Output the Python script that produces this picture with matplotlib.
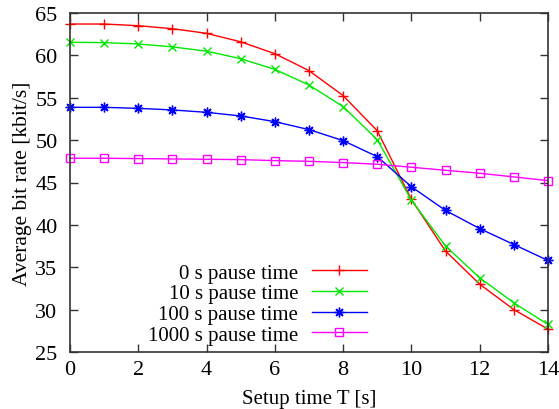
import matplotlib
matplotlib.use("Agg")
import matplotlib.pyplot as plt

plt.rcParams['font.family'] = ['Liberation Serif', 'DejaVu Serif']

setup_time = list(range(15))
labels = ["0 s pause time", "10 s pause time", "100 s pause time", "1000 s pause time"]
pause0 = [63.7, 63.7, 63.5, 63.15, 62.6, 61.6, 60.2, 58.2, 55.25, 51.1, 43.0, 36.9, 33.0, 30.0, 27.7]
pause10 = [61.55, 61.5, 61.35, 61.0, 60.5, 59.6, 58.35, 56.5, 53.95, 50.05, 42.9, 37.5, 33.75, 30.8, 28.25]
pause100 = [53.87, 53.87, 53.75, 53.56, 53.28, 52.85, 52.18, 51.24, 49.94, 48.05, 44.5, 41.7, 39.56, 37.68, 35.8]
pause1000 = [47.86, 47.86, 47.82, 47.78, 47.74, 47.7, 47.58, 47.5, 47.35, 47.15, 46.8, 46.44, 46.09, 45.66, 45.22]
xticks = [0, 2, 4, 6, 8, 10, 12, 14]
yticks = [25, 30, 35, 40, 45, 50, 55, 60, 65]

fig = plt.figure(figsize=(5.59, 4.10), dpi=100)
ax = fig.add_axes([70/559, 1-353/410, (548-70)/559, (353-14)/410])

styles = [
    dict(color='#ff0000', marker='+', ms=7, mew=1.0),
    dict(color='#00e800', marker='x', ms=5.5, mew=1.0),
    dict(color='#0000ff', marker=(8, 2, 0), ms=7, mew=1.0),
    dict(color='#ff00ff', marker='s', ms=5.5, mew=1.0, mfc='none'),
]
for data, lab, st in zip([pause0, pause10, pause100, pause1000], labels, styles):
    ax.plot(setup_time, data, lw=1.0, label=lab, clip_on=False, **st)

ax.set_xlim(0, 14)
ax.set_ylim(25, 65)
ax.set_xticks(xticks)
ax.set_yticks(yticks)
ax.tick_params(direction='in', top=True, right=True, labelsize=16, length=6, width=1,
               colors='#333333', labelcolor='black')
ax.tick_params(axis='y', pad=9)
ax.tick_params(axis='x', pad=6)
for s in ax.spines.values():
    s.set_color('#333333')
    s.set_linewidth(1.2)
ax.set_xlabel("Setup time T [s]", fontsize=15, labelpad=7)
ax.set_ylabel("Average bit rate [kbit/s]", fontsize=15.5, labelpad=2)

ax.legend(loc='upper right', bbox_to_anchor=(0.621, 0.262), frameon=False, markerfirst=False,
          fontsize=15, handlelength=2.65, handletextpad=0.65, labelspacing=0.05,
          borderpad=0.0, borderaxespad=0.0)

fig.savefig("out.png", dpi=100)
